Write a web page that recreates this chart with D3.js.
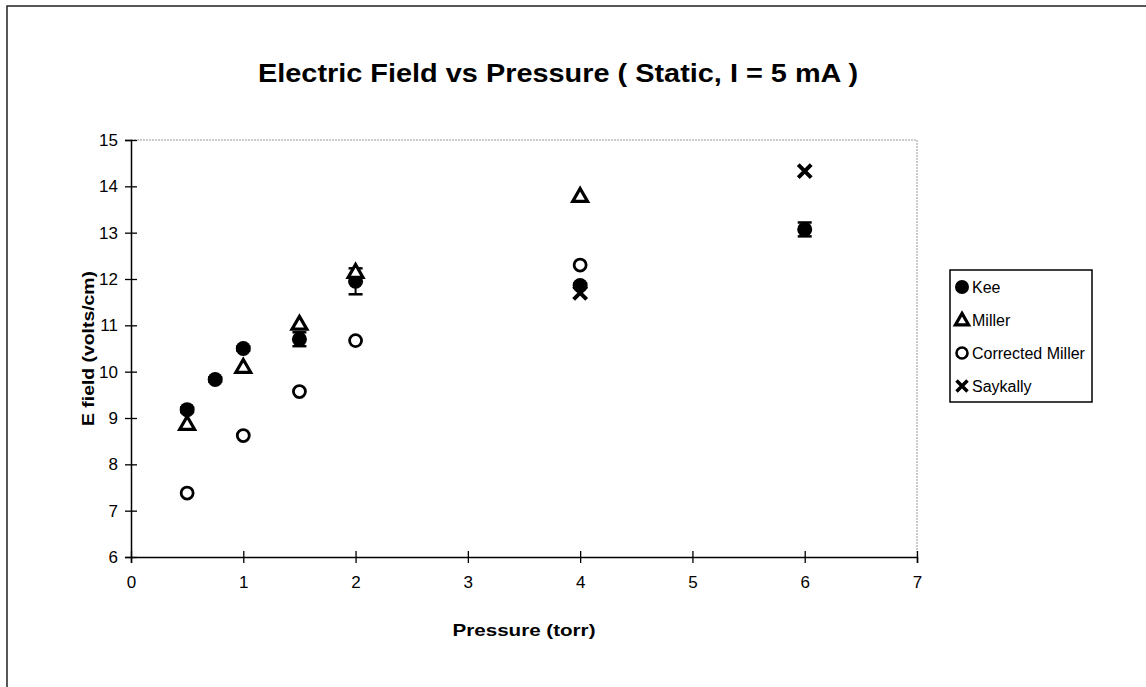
<!DOCTYPE html>
<html><head><meta charset="utf-8">
<script src="https://cdn.jsdelivr.net/npm/d3@7"></script>
<style>body{margin:0;background:#fff}svg{display:block}text{font-family:"Liberation Sans",Arial,sans-serif}</style>
</head><body><svg id="c" width="1146" height="687"></svg>
<script>
const title = "Electric Field vs Pressure ( Static, I = 5 mA )";
const xLabel = "Pressure (torr)";
const yLabel = "E field (volts/cm)";
const xTicks = [0,1,2,3,4,5,6,7];
const yTicks = [6,7,8,9,10,11,12,13,14,15];
const keeX = [0.5,0.75,1,1.5,2,4,6];
const keeY = [9.18,9.83,10.5,10.7,11.95,11.86,13.07];
const keeErr = [0.05,0.05,0.05,0.15,0.28,0.05,0.15];
const millerX = [0.5,1,1.5,2,4];
const millerY = [8.87,10.1,11.03,12.15,13.79];
const corrX = [0.5,1,1.5,2,4];
const corrY = [7.38,8.62,9.57,10.67,12.3];
const sayX = [4,6];
const sayY = [11.7,14.33];
const legendNames = ["Kee","Miller","Corrected Miller","Saykally"];

const svg = d3.select("#c");
const L=131,R=917,T=140,B=557;
const x = d3.scaleLinear().domain([0,7]).range([L,R]);
const y = d3.scaleLinear().domain([6,15]).range([B,T]);

// outer frame
svg.append("rect").attr("x",7).attr("y",6).attr("width",1200).attr("height",700)
  .attr("fill","none").attr("stroke","#222").attr("stroke-width",1.5);

// title
svg.append("text").attr("x",558).attr("y",82).attr("text-anchor","middle")
  .attr("font-size",25).attr("font-weight","bold")
  .attr("textLength",600).attr("lengthAdjust","spacingAndGlyphs").text(title);

// plot area border (dotted gray)
svg.append("path").attr("d",`M${L},${T}H${R}V${B}`).attr("fill","none")
  .attr("stroke","#999").attr("stroke-width",1).attr("stroke-dasharray","2,1");

// axes
const fmt = d3.format("d");
const xa = svg.append("g").attr("transform",`translate(0,${B})`)
  .call(d3.axisBottom(x).tickValues(xTicks).tickFormat(fmt).tickSize(6).tickPadding(13));
const ya = svg.append("g").attr("transform",`translate(${L},0)`)
  .call(d3.axisLeft(y).tickValues(yTicks).tickFormat(fmt).tickSize(6).tickPadding(7));
[xa,ya].forEach(a=>{
  a.select(".domain").attr("stroke","#000").attr("stroke-width",1.5);
  a.selectAll(".tick line").attr("stroke","#000").attr("stroke-width",1.3);
  a.selectAll(".tick text").attr("font-size",17).attr("fill","#000")
   .attr("font-family","Liberation Sans, Arial, sans-serif");
});
xa.selectAll(".tick").append("line").attr("y1",0).attr("y2",-6).attr("stroke","#000").attr("stroke-width",1.3);
ya.selectAll(".tick").append("line").attr("x1",0).attr("x2",6).attr("stroke","#000").attr("stroke-width",1.3);

// axis labels
svg.append("text").attr("x",(L+R)/2).attr("y",636).attr("text-anchor","middle")
  .attr("font-size",17).attr("font-weight","bold")
  .attr("textLength",143).attr("lengthAdjust","spacingAndGlyphs").text(xLabel);
svg.append("text").attr("transform",`translate(94,${(T+B)/2}) rotate(-90)`).attr("text-anchor","middle")
  .attr("font-size",17).attr("font-weight","bold")
  .attr("textLength",155).attr("lengthAdjust","spacingAndGlyphs").text(yLabel);

const g = svg.append("g");
keeX.forEach((v,i)=>{
  const cx=x(v), y1=y(keeY[i]-keeErr[i]), y2=y(keeY[i]+keeErr[i]);
  g.append("line").attr("x1",cx).attr("x2",cx).attr("y1",y1).attr("y2",y2).attr("stroke","#000").attr("stroke-width",2);
  [y1,y2].forEach(yy=>g.append("line").attr("x1",cx-7).attr("x2",cx+7).attr("y1",yy).attr("y2",yy).attr("stroke","#000").attr("stroke-width",2.5));
});

const tri = d3.symbol().type(d3.symbolTriangle).size(95);

function drawX(sel, px, py, h, w){
  sel.append("path").attr("d",`M${px-h},${py-h}L${px+h},${py+h}M${px-h},${py+h}L${px+h},${py-h}`)
    .attr("stroke","#000").attr("stroke-width",w).attr("fill","none");
}
function marker(sel, type, px, py){
  if(type===0) sel.append("circle").attr("cx",px).attr("cy",py).attr("r",7.5).attr("fill","#000");
  if(type===1) sel.append("path").attr("d",tri).attr("transform",`translate(${px},${py+1})`).attr("fill","#fff").attr("stroke","#000").attr("stroke-width",3.2);
  if(type===2) sel.append("circle").attr("cx",px).attr("cy",py).attr("r",6).attr("fill","none").attr("stroke","#000").attr("stroke-width",2.8);
  if(type===3) drawX(sel, px, py, 6.5, 4);
}
keeX.forEach((v,i)=>marker(g,0,x(v),y(keeY[i])));
corrX.forEach((v,i)=>marker(g,2,x(v),y(corrY[i])));
millerX.forEach((v,i)=>marker(g,1,x(v),y(millerY[i])));
sayX.forEach((v,i)=>marker(g,3,x(v),y(sayY[i])));

// legend
const lg = svg.append("g");
lg.append("rect").attr("x",950).attr("y",270).attr("width",142).attr("height",132)
  .attr("fill","#fff").attr("stroke","#000").attr("stroke-width",1.5);
legendNames.forEach((n,i)=>{
  const yy = 287 + i*33;
  if(i===0) lg.append("circle").attr("cx",962).attr("cy",yy).attr("r",7).attr("fill","#000");
  if(i===1) lg.append("path").attr("d",d3.symbol().type(d3.symbolTriangle).size(75)).attr("transform",`translate(962,${yy+1})`).attr("fill","#fff").attr("stroke","#000").attr("stroke-width",3.2);
  if(i===2) lg.append("circle").attr("cx",962).attr("cy",yy).attr("r",5.5).attr("fill","none").attr("stroke","#000").attr("stroke-width",2.6);
  if(i===3) drawX(lg, 962, yy, 5.5, 3.5);
  lg.append("text").attr("x",972).attr("y",yy+6).attr("font-size",16).text(n);
});
</script></body></html>
